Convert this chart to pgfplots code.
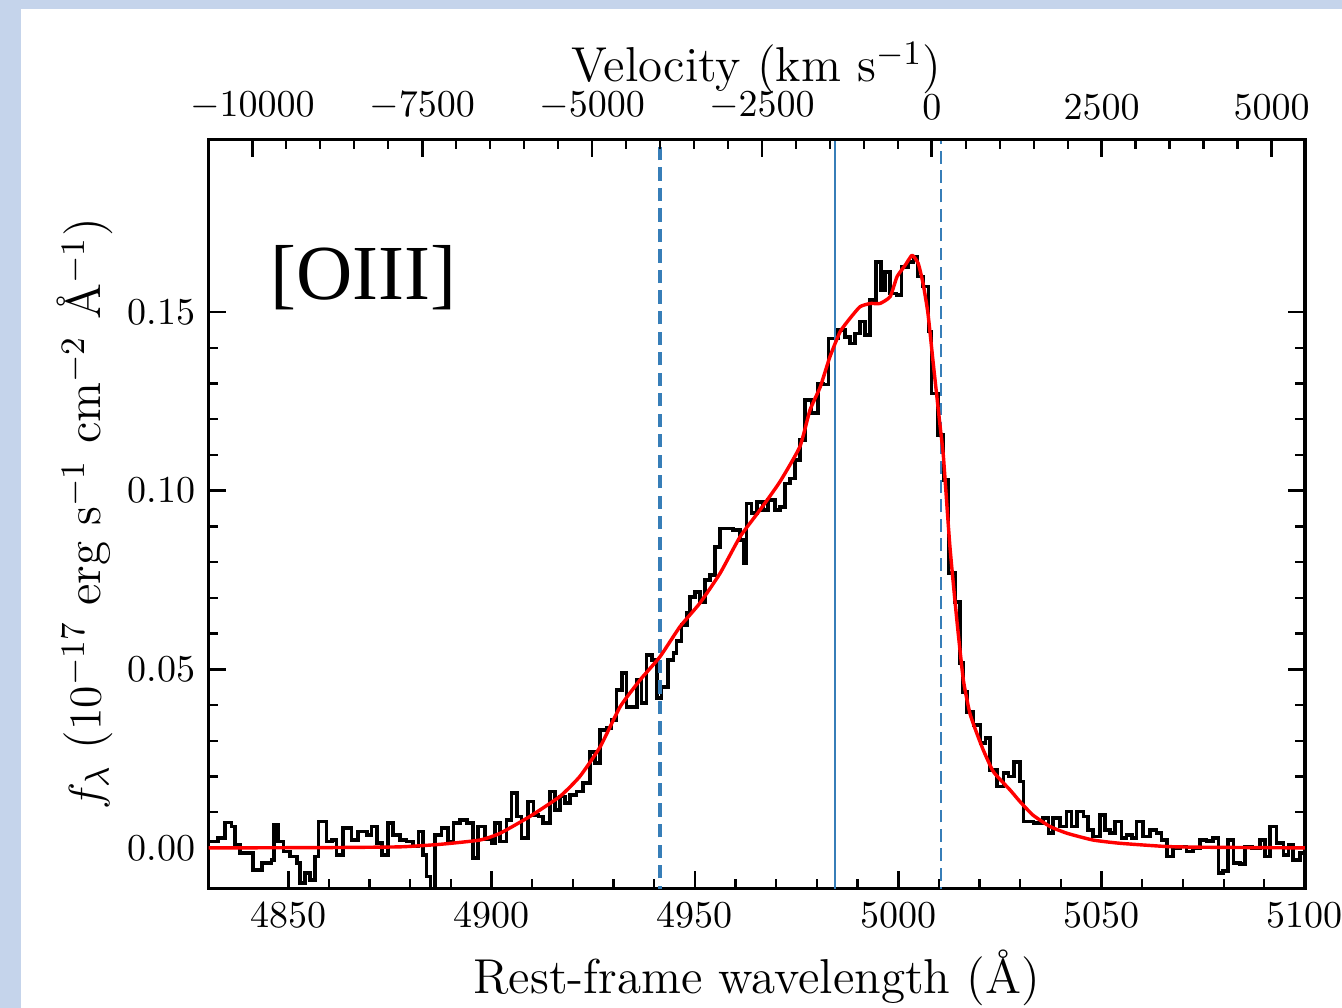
\documentclass[border=0pt]{standalone}
\usepackage{fontspec}
\usepackage{pgfplots}
\pgfplotsset{compat=1.18}
\newfontfamily\timesfont{Liberation Serif}
\definecolor{bgblue}{RGB}{197,212,235}
\definecolor{lineblue}{RGB}{55,126,184}
\begin{document}
\begin{tikzpicture}
\useasboundingbox (-54.87pt,-31.5pt) rectangle (298.29pt,233.76pt);
\fill[bgblue] (-54.87pt,-31.5pt) rectangle (298.29pt,233.76pt);
\fill[white] (-49.34pt,-31.5pt) rectangle (298.29pt,231.39pt);
\pgfplotsset{
  common/.style={
    width=288.55pt, height=197.05pt, scale only axis,
    at={(0pt,0pt)}, anchor=south west,
    ymin=-0.0113, ymax=0.1983,
    tick align=inside,
    major tick length=4.5pt, minor tick length=2.5pt,
    axis line style={line width=0.8pt},
    major tick style={line width=0.7pt, black},
    minor tick style={line width=0.6pt, black},
    tick label style={font=\normalsize},
    label style={font=\fontsize{12.9}{15}\selectfont},
  }
}
\begin{axis}[common,
  xmin=4830.4, xmax=5100,
  xtick={4850,4900,4950,5000,5050,5100},
  xticklabels={4850,4900,4950,5000,5050,5100},
  minor x tick num=4,
  xtick pos=left,
  ytick={0,0.05,0.1,0.15},
  yticklabels={0.00,0.05,0.10,0.15},
  minor y tick num=4,
  ytick pos=both,
  xlabel={Rest-frame wavelength (Å)},
  ylabel={$f_\lambda$ ($10^{-17}$ erg s$^{-1}$ cm$^{-2}$ Å$^{-1}$)},
  xlabel style={at={(axis description cs:0.5,0)}, anchor=base, yshift=-27.6pt},
  ylabel style={at={(axis description cs:-0.1126,0.5)}, anchor=center},
  clip=true,
]
\addplot[const plot, black, line width=0.95pt, line join=miter] coordinates {
(4830.4,0.0018)(4832.8,0.0027)(4834.4,0.0071)(4836.1,0.0060)(4836.9,0.0008)(4838.1,-0.0015)
(4841.4,-0.0062)(4843.5,-0.0043)(4845.9,-0.0034)(4846.5,0.0064)(4847.5,0.0018)(4848.8,-0.0010)
(4850.4,-0.0024)(4852.1,-0.0043)(4852.9,-0.0099)(4854.1,-0.0071)(4855.3,-0.0090)(4856.6,-0.0024)
(4857.4,0.0074)(4859.4,0.0018)(4860.7,0.0022)(4861.9,-0.0020)(4863.5,0.0055)(4865.6,0.0022)
(4867.2,0.0046)(4869.3,0.0036)(4870.5,0.0060)(4871.8,0.0013)(4873.0,-0.0020)(4874.6,0.0069)
(4875.8,0.0036)(4877.5,0.0022)(4879.1,0.0018)(4880.7,0.0004)(4882.0,0.0046)(4883.2,-0.0020)
(4884.0,-0.0080)(4885.0,-0.0120)(4886.1,0.0036)(4887.7,0.0055)(4889.3,0.0018)(4890.6,0.0069)
(4892.2,0.0078)(4893.9,0.0069)(4895.5,-0.0029)(4896.7,0.0060)(4898.4,0.0025)(4900.0,0.0013)
(4900.8,0.0069)(4902.1,0.0018)(4903.7,0.0078)(4904.9,0.0153)(4906.2,0.0088)(4907.4,0.0027)
(4909.0,0.0130)(4910.3,0.0092)(4911.5,0.0088)(4912.7,0.0069)(4914.3,0.0158)(4915.6,0.0106)
(4916.8,0.0144)(4918.1,0.0125)(4919.3,0.0148)(4920.9,0.0158)(4922.5,0.0181)(4924.2,0.0269)
(4925.4,0.0237)(4926.6,0.0330)(4928.3,0.0335)(4929.5,0.0358)(4930.7,0.0442)(4932.0,0.0489)
(4933.2,0.0395)(4935.7,0.0470)(4936.9,0.0405)(4938.1,0.0540)(4939.4,0.0526)(4940.6,0.0419)
(4941.8,0.0451)(4943.4,0.0526)(4944.7,0.0545)(4945.5,0.0580)(4946.7,0.0624)(4948.0,0.0657)
(4948.8,0.0703)(4950.0,0.0717)(4951.2,0.0689)(4952.5,0.0750)(4953.7,0.0764)(4954.9,0.0843)
(4956.1,0.0894)(4959.4,0.0890)(4961.1,0.0862)(4961.9,0.0797)(4962.7,0.0964)(4963.9,0.0937)
(4965.2,0.0969)(4966.8,0.0946)(4968.0,0.0974)(4969.7,0.0946)(4970.9,0.0955)(4972.1,0.1020)
(4973.4,0.1034)(4974.6,0.1086)(4975.8,0.1142)(4977.0,0.1253)(4978.7,0.1217)(4980.3,0.1300)
(4981.5,0.1297)(4982.8,0.1426)(4985.2,0.1449)(4986.9,0.1430)(4988.1,0.1412)(4989.4,0.1440)
(4990.6,0.1473)(4991.8,0.1435)(4993.0,0.1533)(4994.5,0.1640)(4995.7,0.1560)(4996.7,0.1612)
(4998.0,0.1552)(4999.6,0.1547)(5000.8,0.1626)(5002.5,0.1640)(5003.7,0.1654)(5004.7,0.1599)
(5006.1,0.1571)(5007.4,0.1445)(5008.2,0.1272)(5009.8,0.1156)(5011.1,0.1030)(5012.3,0.0769)
(5013.9,0.0689)(5015.2,0.0517)(5015.9,0.0437)(5016.9,0.0381)(5018.5,0.0344)(5020.2,0.0293)
(5021.4,0.0307)(5022.6,0.0218)(5024.3,0.0172)(5025.9,0.0209)(5027.1,0.0200)(5028.4,0.0241)
(5030.0,0.0186)(5030.8,0.0074)(5033.2,0.0069)(5035.6,0.0083)(5036.9,0.0041)(5038.1,0.0083)
(5039.8,0.0060)(5041.4,0.0102)(5042.6,0.0060)(5043.9,0.0102)(5045.5,0.0088)(5046.7,0.0050)
(5047.9,0.0032)(5049.6,0.0092)(5050.8,0.0050)(5052.0,0.0041)(5053.3,0.0074)(5054.9,0.0027)
(5056.1,0.0036)(5057.4,0.0027)(5058.6,0.0074)(5060.2,0.0032)(5061.9,0.0050)(5063.5,0.0041)
(5064.7,0.0022)(5066.0,-0.0024)(5067.6,0.0000)(5069.2,0.0004)(5070.9,-0.0010)(5072.5,0.0000)
(5074.2,0.0022)(5075.8,0.0020)(5077.4,0.0027)(5078.7,-0.0071)(5079.9,-0.0065)(5081.1,0.0022)
(5082.4,-0.0043)(5084.0,-0.0045)(5085.2,0.0004)(5086.9,0.0000)(5088.9,0.0022)(5090.2,-0.0024)
(5091.4,0.0060)(5093.0,0.0013)(5094.7,-0.0020)(5095.9,0.0008)(5097.1,-0.0034)(5098.8,-0.0015)
(5100,-0.0015)
};
\addplot[lineblue, line width=1.0pt, dash pattern=on 3.5pt off 1.9pt] coordinates {(4941.4,-0.02) (4941.4,0.25)};
\addplot[lineblue, line width=0.55pt] coordinates {(4984.4,-0.02) (4984.4,0.25)};
\addplot[lineblue, line width=0.55pt, dash pattern=on 3.4pt off 1.7pt] coordinates {(5010.5,-0.02) (5010.5,0.25)};
\addplot[red, line width=0.9pt, line join=round, smooth, tension=0.3] coordinates {
(4830.4,0.0000)(4860,0.0001)(4877.5,0.0003)(4887.3,0.0010)(4897.1,0.0022)(4902.1,0.0041)
(4909.4,0.0088)(4916.8,0.0144)(4921.7,0.0200)(4926.7,0.0283)(4931.6,0.0395)(4936.5,0.0470)
(4941.4,0.0535)(4946.3,0.0619)(4951.2,0.0685)(4956.2,0.0769)(4961.1,0.0871)(4966.0,0.0946)
(4970.9,0.1025)(4975.8,0.1123)(4978.3,0.1226)(4980.8,0.1290)(4983.2,0.1375)(4985.7,0.1445)
(4988.1,0.1482)(4990.6,0.1515)(4993.1,0.1524)(4995.5,0.1524)(4998.0,0.1543)(4999.7,0.1599)
(5001.7,0.1631)(5003.4,0.1659)(5004.9,0.1636)(5006.1,0.1580)(5007.3,0.1496)(5008.6,0.1356)
(5010.3,0.1179)(5011.1,0.1095)(5012.7,0.0843)(5014.4,0.0638)(5016.0,0.0470)(5017.6,0.0377)
(5019.3,0.0321)(5020.9,0.0274)(5023.4,0.0213)(5027.5,0.0162)(5029.9,0.0130)(5033.1,0.0092)
(5037.3,0.0060)(5041.5,0.0041)(5047.9,0.0022)(5054.5,0.0013)(5065.8,0.0004)(5074.2,0.0002)
(5100,0.0000)
};
\node[anchor=base west, inner sep=0pt, font={\timesfont\fontsize{20.5}{24}\selectfont}] at (axis description cs:0.056,0.7857) {[OIII]};
\end{axis}
\begin{axis}[common,
  xmin=-10645.4, xmax=5492.7,
  axis x line*=top, axis y line=none,
  scaled x ticks=false,
  xtick={-10000,-7500,-5000,-2500,0,2500,5000},
  xticklabels={$-10000$,$-7500$,$-5000$,$-2500$,$0$,$2500$,$5000$},
  minor x tick num=4,
  x tick label style={yshift=1.8pt},
  xlabel={Velocity (km s$^{-1}$)},
  xlabel style={at={(axis description cs:0.5,1)}, anchor=base, yshift=15.3pt},
]
\addplot[draw=none] coordinates {(0,0)};
\end{axis}
\end{tikzpicture}
\end{document}
